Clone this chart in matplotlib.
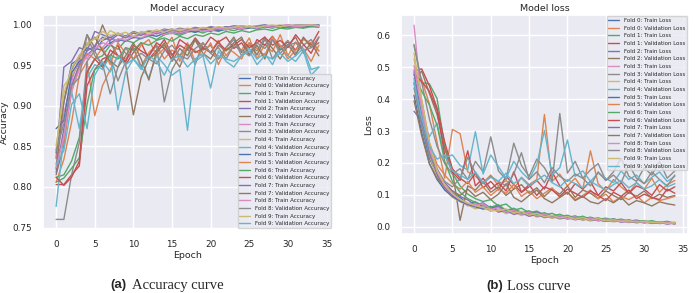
import numpy as np
import seaborn as sns
from matplotlib import pyplot as plt

# epochs and fold labels
epochs = np.arange(35)
folds = list(range(10))

# accuracy curves
train_acc = [
    [0.842, 0.905, 0.952, 0.958, 0.972, 0.968, 0.981, 0.985, 0.979, 0.987, 0.984, 0.990, 0.986, 0.991, 0.988, 0.993, 0.990, 0.994, 0.991, 0.995, 0.992, 0.996, 0.994, 0.997, 0.995, 0.996, 0.998, 0.997, 0.999, 0.996, 0.998, 0.999, 0.997, 1.000, 0.999],
    [0.812, 0.815, 0.832, 0.861, 0.941, 0.958, 0.962, 0.975, 0.970, 0.981, 0.978, 0.984, 0.986, 0.982, 0.988, 0.990, 0.987, 0.991, 0.993, 0.990, 0.994, 0.992, 0.995, 0.993, 0.996, 0.997, 0.995, 0.998, 0.996, 0.999, 0.997, 0.998, 1.000, 0.998, 0.999],
    [0.835, 0.948, 0.955, 0.972, 0.968, 0.992, 0.988, 0.984, 0.990, 0.986, 0.992, 0.989, 0.993, 0.991, 0.995, 0.993, 0.996, 0.994, 0.997, 0.995, 0.998, 0.996, 0.997, 0.999, 0.998, 0.997, 0.999, 1.000, 0.998, 0.999, 1.000, 0.999, 1.000, 0.999, 1.000],
    [0.828, 0.891, 0.930, 0.962, 0.958, 0.975, 0.972, 0.983, 0.980, 0.986, 0.984, 0.989, 0.987, 0.990, 0.992, 0.989, 0.993, 0.991, 0.994, 0.996, 0.993, 0.995, 0.997, 0.996, 0.998, 0.997, 0.999, 0.998, 0.997, 0.999, 1.000, 0.998, 0.999, 1.000, 0.999],
    [0.846, 0.925, 0.938, 0.955, 0.978, 0.983, 0.992, 0.987, 0.990, 0.985, 0.991, 0.988, 0.993, 0.990, 0.994, 0.992, 0.995, 0.993, 0.996, 0.994, 0.997, 0.995, 0.998, 0.996, 0.997, 0.999, 0.998, 0.997, 0.999, 1.000, 0.998, 0.999, 1.000, 0.999, 1.000],
    [0.872, 0.882, 0.941, 0.955, 0.963, 0.971, 0.969, 0.978, 0.982, 0.980, 0.985, 0.983, 0.988, 0.986, 0.990, 0.992, 0.989, 0.993, 0.991, 0.994, 0.996, 0.993, 0.995, 0.997, 0.995, 0.998, 0.996, 0.998, 0.997, 0.999, 0.998, 1.000, 0.999, 0.998, 1.000],
    [0.806, 0.811, 0.823, 0.836, 0.902, 0.945, 0.951, 0.963, 0.958, 0.972, 0.969, 0.978, 0.975, 0.981, 0.984, 0.980, 0.986, 0.983, 0.988, 0.986, 0.990, 0.988, 0.992, 0.990, 0.993, 0.991, 0.994, 0.995, 0.993, 0.996, 0.995, 0.997, 0.996, 0.998, 0.997],
    [0.818, 0.872, 0.925, 0.951, 0.968, 0.974, 0.985, 0.981, 0.988, 0.984, 0.990, 0.987, 0.992, 0.989, 0.993, 0.995, 0.991, 0.994, 0.996, 0.994, 0.997, 0.995, 0.998, 0.996, 0.999, 0.997, 0.998, 1.000, 0.998, 0.999, 0.997, 1.000, 0.999, 1.000, 0.999],
    [0.824, 0.862, 0.918, 0.945, 0.962, 0.970, 0.978, 0.975, 0.983, 0.981, 0.986, 0.984, 0.988, 0.991, 0.988, 0.992, 0.990, 0.993, 0.995, 0.992, 0.994, 0.996, 0.994, 0.997, 0.995, 0.998, 0.996, 0.999, 0.997, 0.998, 1.000, 0.998, 0.999, 1.000, 0.998],
    [0.851, 0.915, 0.947, 0.962, 0.975, 0.984, 0.981, 0.993, 0.988, 0.991, 0.986, 0.992, 0.990, 0.994, 0.991, 0.995, 0.993, 0.996, 0.994, 0.997, 0.995, 0.998, 0.996, 0.997, 0.999, 0.998, 0.997, 0.999, 1.000, 0.998, 0.999, 1.000, 0.999, 1.000, 0.999],
]
val_acc = [
    [0.806, 0.834, 0.880, 0.938, 0.955, 0.888, 0.925, 0.945, 0.962, 0.958, 0.971, 0.949, 0.966, 0.975, 0.958, 0.969, 0.962, 0.978, 0.955, 0.972, 0.966, 0.981, 0.962, 0.975, 0.969, 0.984, 0.958, 0.976, 0.967, 0.988, 0.962, 0.979, 0.971, 0.955, 0.975],
    [0.803, 0.803, 0.815, 0.826, 0.925, 0.945, 0.958, 0.962, 0.975, 0.951, 0.966, 0.978, 0.958, 0.969, 0.982, 0.963, 0.975, 0.969, 0.984, 0.972, 0.966, 0.979, 0.985, 0.971, 0.978, 0.963, 0.982, 0.975, 0.986, 0.972, 0.979, 0.969, 0.984, 0.975, 0.992],
    [0.815, 0.852, 0.935, 0.955, 0.988, 0.972, 1.000, 0.978, 0.962, 0.951, 0.889, 0.935, 0.958, 0.965, 0.978, 0.955, 0.971, 0.962, 0.982, 0.969, 0.975, 0.958, 0.972, 0.985, 0.966, 0.978, 0.963, 0.982, 0.971, 0.958, 0.975, 0.985, 0.965, 0.978, 0.962],
    [0.760, 0.760, 0.815, 0.855, 0.955, 0.968, 0.948, 0.962, 0.931, 0.955, 0.972, 0.948, 0.962, 0.975, 0.905, 0.945, 0.962, 0.972, 0.951, 0.978, 0.965, 0.958, 0.972, 0.982, 0.962, 0.975, 0.968, 0.985, 0.958, 0.972, 0.981, 0.965, 0.975, 0.982, 0.968],
    [0.776, 0.862, 0.918, 0.872, 0.935, 0.951, 0.945, 0.962, 0.895, 0.942, 0.958, 0.948, 0.935, 0.962, 0.951, 0.938, 0.945, 0.870, 0.955, 0.962, 0.922, 0.968, 0.955, 0.948, 0.962, 0.971, 0.958, 0.965, 0.951, 0.972, 0.962, 0.955, 0.968, 0.938, 0.948],
    [0.838, 0.855, 0.918, 0.948, 0.965, 0.958, 0.972, 0.951, 0.978, 0.965, 0.958, 0.975, 0.982, 0.962, 0.971, 0.985, 0.955, 0.975, 0.968, 0.962, 0.978, 0.951, 0.972, 0.966, 0.958, 0.978, 0.971, 0.962, 0.985, 0.975, 0.958, 0.969, 0.982, 0.978, 0.968],
    [0.812, 0.802, 0.812, 0.832, 0.942, 0.958, 0.948, 0.969, 0.962, 0.955, 0.975, 0.968, 0.962, 0.978, 0.971, 0.958, 0.982, 0.975, 0.966, 0.971, 0.985, 0.978, 0.969, 0.975, 0.982, 0.972, 0.978, 0.985, 0.975, 0.981, 0.972, 0.988, 0.976, 0.965, 0.985],
    [0.822, 0.905, 0.945, 0.962, 0.975, 0.985, 0.968, 0.955, 0.948, 0.962, 0.978, 0.958, 0.932, 0.968, 0.975, 0.962, 0.948, 0.972, 0.981, 0.965, 0.958, 0.975, 0.968, 0.978, 0.985, 0.962, 0.975, 0.958, 0.982, 0.969, 0.976, 0.962, 0.985, 0.972, 0.978],
    [0.845, 0.878, 0.925, 0.935, 0.988, 0.962, 0.952, 0.915, 0.948, 0.972, 0.958, 0.965, 0.958, 0.952, 0.968, 0.975, 0.962, 0.958, 0.971, 0.978, 0.965, 0.972, 0.958, 0.975, 0.968, 0.962, 0.978, 0.971, 0.982, 0.965, 0.975, 0.978, 0.968, 0.972, 0.985],
    [0.828, 0.845, 0.902, 0.915, 0.872, 0.938, 0.955, 0.942, 0.962, 0.951, 0.958, 0.945, 0.962, 0.955, 0.938, 0.958, 0.962, 0.948, 0.958, 0.965, 0.952, 0.962, 0.958, 0.955, 0.962, 0.968, 0.951, 0.962, 0.958, 0.965, 0.955, 0.962, 0.971, 0.945, 0.948],
]

# loss curves
train_loss = [
    [0.452, 0.318, 0.215, 0.162, 0.128, 0.105, 0.092, 0.071, 0.078, 0.062, 0.058, 0.066, 0.049, 0.052, 0.042, 0.046, 0.037, 0.041, 0.031, 0.035, 0.027, 0.031, 0.024, 0.028, 0.020, 0.024, 0.018, 0.021, 0.015, 0.019, 0.013, 0.016, 0.011, 0.014, 0.009],
    [0.568, 0.452, 0.448, 0.402, 0.252, 0.168, 0.128, 0.102, 0.088, 0.079, 0.085, 0.065, 0.071, 0.052, 0.058, 0.044, 0.049, 0.037, 0.042, 0.031, 0.036, 0.027, 0.033, 0.023, 0.028, 0.020, 0.025, 0.017, 0.022, 0.015, 0.019, 0.013, 0.016, 0.011, 0.014],
    [0.362, 0.332, 0.252, 0.182, 0.138, 0.112, 0.095, 0.084, 0.068, 0.075, 0.058, 0.064, 0.049, 0.056, 0.045, 0.038, 0.046, 0.036, 0.029, 0.038, 0.026, 0.032, 0.022, 0.028, 0.021, 0.017, 0.024, 0.018, 0.014, 0.019, 0.012, 0.016, 0.010, 0.013, 0.009],
    [0.632, 0.385, 0.242, 0.168, 0.125, 0.098, 0.082, 0.065, 0.072, 0.054, 0.061, 0.045, 0.052, 0.038, 0.044, 0.032, 0.039, 0.028, 0.034, 0.024, 0.029, 0.021, 0.026, 0.018, 0.023, 0.016, 0.021, 0.014, 0.018, 0.012, 0.016, 0.010, 0.014, 0.008, 0.012],
    [0.528, 0.362, 0.225, 0.155, 0.118, 0.092, 0.078, 0.068, 0.056, 0.062, 0.048, 0.054, 0.041, 0.047, 0.035, 0.042, 0.030, 0.036, 0.026, 0.032, 0.023, 0.028, 0.020, 0.025, 0.018, 0.022, 0.015, 0.019, 0.013, 0.017, 0.011, 0.015, 0.010, 0.013, 0.008],
    [0.412, 0.295, 0.198, 0.148, 0.115, 0.095, 0.080, 0.070, 0.062, 0.056, 0.064, 0.047, 0.052, 0.040, 0.045, 0.034, 0.039, 0.030, 0.034, 0.026, 0.030, 0.023, 0.027, 0.020, 0.024, 0.017, 0.021, 0.015, 0.018, 0.013, 0.016, 0.011, 0.014, 0.009, 0.012],
    [0.475, 0.425, 0.382, 0.318, 0.205, 0.142, 0.108, 0.088, 0.076, 0.068, 0.061, 0.069, 0.051, 0.058, 0.044, 0.050, 0.038, 0.044, 0.033, 0.039, 0.029, 0.034, 0.025, 0.030, 0.022, 0.027, 0.020, 0.024, 0.017, 0.021, 0.015, 0.019, 0.013, 0.017, 0.011],
    [0.485, 0.345, 0.232, 0.165, 0.122, 0.098, 0.084, 0.073, 0.065, 0.059, 0.054, 0.061, 0.045, 0.050, 0.039, 0.044, 0.033, 0.038, 0.029, 0.034, 0.025, 0.030, 0.022, 0.026, 0.019, 0.023, 0.017, 0.020, 0.015, 0.018, 0.013, 0.016, 0.011, 0.014, 0.009],
    [0.505, 0.372, 0.248, 0.172, 0.128, 0.102, 0.085, 0.074, 0.066, 0.072, 0.054, 0.060, 0.046, 0.052, 0.039, 0.045, 0.034, 0.040, 0.029, 0.035, 0.025, 0.031, 0.022, 0.027, 0.019, 0.024, 0.017, 0.021, 0.015, 0.018, 0.013, 0.016, 0.011, 0.014, 0.009],
    [0.545, 0.398, 0.262, 0.178, 0.132, 0.104, 0.086, 0.074, 0.066, 0.060, 0.054, 0.049, 0.056, 0.042, 0.048, 0.036, 0.042, 0.031, 0.036, 0.027, 0.032, 0.023, 0.029, 0.020, 0.026, 0.018, 0.022, 0.016, 0.019, 0.014, 0.017, 0.012, 0.015, 0.010, 0.013],
]
val_loss = [
    [0.492, 0.462, 0.385, 0.265, 0.152, 0.305, 0.292, 0.172, 0.158, 0.138, 0.162, 0.128, 0.145, 0.118, 0.155, 0.132, 0.148, 0.352, 0.142, 0.165, 0.128, 0.152, 0.118, 0.238, 0.135, 0.112, 0.148, 0.125, 0.105, 0.138, 0.118, 0.152, 0.108, 0.132, 0.145],
    [0.488, 0.495, 0.442, 0.372, 0.265, 0.182, 0.152, 0.135, 0.168, 0.122, 0.142, 0.115, 0.158, 0.132, 0.108, 0.125, 0.145, 0.118, 0.172, 0.128, 0.102, 0.135, 0.118, 0.142, 0.098, 0.125, 0.112, 0.138, 0.105, 0.128, 0.118, 0.098, 0.132, 0.112, 0.125],
    [0.465, 0.488, 0.418, 0.352, 0.245, 0.175, 0.020, 0.128, 0.115, 0.142, 0.108, 0.125, 0.098, 0.118, 0.132, 0.105, 0.122, 0.095, 0.118, 0.102, 0.128, 0.092, 0.115, 0.105, 0.088, 0.112, 0.098, 0.085, 0.108, 0.095, 0.112, 0.088, 0.102, 0.092, 0.098],
    [0.572, 0.452, 0.338, 0.252, 0.198, 0.165, 0.182, 0.148, 0.205, 0.172, 0.282, 0.175, 0.148, 0.262, 0.192, 0.158, 0.212, 0.185, 0.142, 0.355, 0.168, 0.205, 0.152, 0.178, 0.198, 0.145, 0.172, 0.215, 0.158, 0.142, 0.185, 0.162, 0.205, 0.152, 0.175],
    [0.462, 0.352, 0.282, 0.325, 0.218, 0.225, 0.192, 0.178, 0.298, 0.165, 0.225, 0.188, 0.152, 0.205, 0.172, 0.148, 0.195, 0.302, 0.162, 0.185, 0.272, 0.158, 0.175, 0.142, 0.168, 0.152, 0.138, 0.175, 0.148, 0.162, 0.135, 0.155, 0.172, 0.142, 0.158],
    [0.412, 0.398, 0.265, 0.195, 0.162, 0.135, 0.118, 0.142, 0.108, 0.125, 0.098, 0.118, 0.105, 0.132, 0.095, 0.112, 0.088, 0.105, 0.122, 0.092, 0.108, 0.085, 0.098, 0.115, 0.088, 0.102, 0.078, 0.095, 0.085, 0.098, 0.075, 0.092, 0.082, 0.088, 0.095],
    [0.478, 0.455, 0.425, 0.365, 0.225, 0.172, 0.145, 0.238, 0.128, 0.152, 0.118, 0.138, 0.112, 0.172, 0.108, 0.132, 0.098, 0.125, 0.115, 0.095, 0.118, 0.105, 0.092, 0.112, 0.098, 0.082, 0.108, 0.095, 0.115, 0.088, 0.102, 0.092, 0.085, 0.118, 0.105],
    [0.395, 0.285, 0.198, 0.152, 0.128, 0.112, 0.098, 0.118, 0.095, 0.108, 0.085, 0.102, 0.135, 0.092, 0.078, 0.098, 0.115, 0.088, 0.075, 0.092, 0.108, 0.082, 0.095, 0.078, 0.072, 0.088, 0.075, 0.092, 0.068, 0.082, 0.075, 0.065, 0.078, 0.072, 0.068],
    [0.435, 0.318, 0.225, 0.178, 0.142, 0.125, 0.152, 0.218, 0.168, 0.135, 0.158, 0.142, 0.128, 0.165, 0.232, 0.148, 0.172, 0.138, 0.185, 0.158, 0.142, 0.165, 0.152, 0.128, 0.172, 0.145, 0.162, 0.138, 0.195, 0.152, 0.135, 0.172, 0.148, 0.128, 0.162],
    [0.448, 0.342, 0.252, 0.212, 0.225, 0.175, 0.162, 0.148, 0.172, 0.138, 0.155, 0.142, 0.168, 0.135, 0.152, 0.128, 0.145, 0.162, 0.138, 0.125, 0.148, 0.135, 0.122, 0.142, 0.128, 0.115, 0.132, 0.145, 0.122, 0.138, 0.118, 0.128, 0.148, 0.125, 0.135],
]

sns.set_theme(style='darkgrid')
plt.rcParams['font.family'] = ['DejaVu Sans']

fig = plt.figure(figsize=(6.98, 2.93), dpi=100)
ax1 = fig.add_axes([0.0616, 0.218, 0.414, 0.730])
ax2 = fig.add_axes([0.5745, 0.201, 0.411, 0.747])

for k in folds:
    ax1.plot(epochs, train_acc[k], lw=1.0, label=f'Fold {k}: Train Accuracy')
    ax1.plot(epochs, val_acc[k], lw=1.0, label=f'Fold {k}: Validation Accuracy')
    ax2.plot(epochs, train_loss[k], lw=1.0, label=f'Fold {k}: Train Loss')
    ax2.plot(epochs, val_loss[k], lw=1.0, label=f'Fold {k}: Validation Loss')

for ax, title, ylab in [(ax1, 'Model accuracy', 'Accuracy'), (ax2, 'Model loss', 'Loss')]:
    ax.set_title(title, fontsize=6.8, pad=3)
    ax.set_xlabel('Epoch', fontsize=6.8, labelpad=1)
    ax.set_ylabel(ylab, fontsize=6.8, labelpad=2)
    ax.tick_params(labelsize=6.4, pad=2)
    ax.set_xticks(np.arange(0, 36, 5))

ax1.set_yticks(np.arange(0.75, 1.001, 0.05))
leg_kw = dict(fontsize=4, labelspacing=0.48, handlelength=2.0,
              borderpad=0.3, borderaxespad=0.2)
ax1.legend(loc='lower right', **leg_kw)
ax2.legend(loc='upper right', **leg_kw)

# sub-figure captions
fig.text(110 / 698, 1 - 285 / 293, '(a)', fontsize=9.5, fontweight='bold',
         family='Liberation Sans', va='center', ha='left')
fig.text(132 / 698, 1 - 285 / 293, 'Accuracy curve', fontsize=10.5,
         family='Liberation Serif', va='center', ha='left')
fig.text(486 / 698, 1 - 286 / 293, '(b)', fontsize=9.5, fontweight='bold',
         family='Liberation Sans', va='center', ha='left')
fig.text(507 / 698, 1 - 286 / 293, 'Loss curve', fontsize=10.5,
         family='Liberation Serif', va='center', ha='left')

plt.savefig('out.png', dpi=100)
